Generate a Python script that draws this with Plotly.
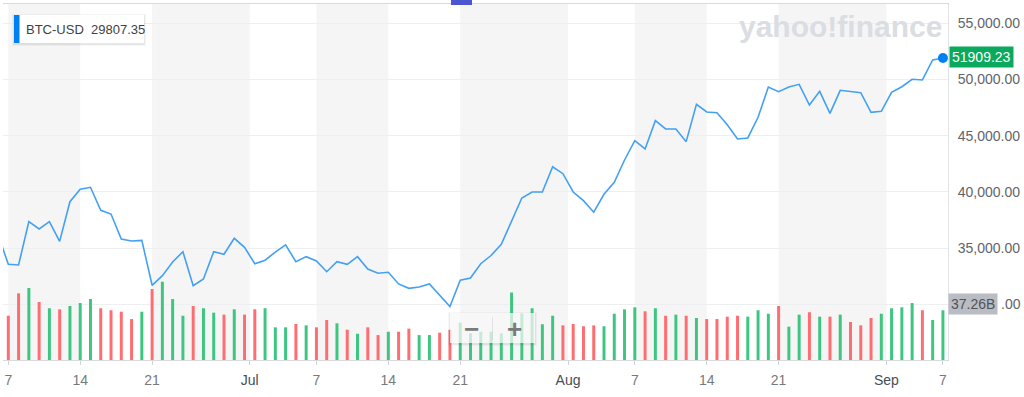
import plotly.graph_objects as go
import pandas as pd

# ---------------- data ----------------
START_DATE = "2021-06-06"
END_DATE = "2021-09-06"

PRICE = [
    36200,                                                    # Jun 6
    33560, 33500, 37350, 36700, 37350, 35600, 39130,          # Jun 7-13
    40230, 40410, 38360, 38030, 35810, 35630, 35690,          # Jun 14-20
    31690, 32550, 33760, 34680, 31660, 32250, 34680,          # Jun 21-27
    34450, 35870, 35070,                                      # Jun 28-30
    33610, 33920, 34650, 35280, 33790, 34240,                 # Jul 1-6
    33850, 32900, 33790, 33560, 34240, 33140, 32760,          # Jul 7-13
    32850, 31810, 31420, 31540, 31810, 30830, 29807.35,       # Jul 14-20
    32140, 32340, 33610, 34340, 35340, 37410, 39460,          # Jul 21-27
    39990, 39990, 42240, 41620,                               # Jul 28-31
    39990, 39220, 38190, 39790, 40850, 42840,                 # Aug 1-6
    44560, 43820, 46340, 45600, 45600, 44470, 47790,          # Aug 7-13
    47110, 47050, 45980, 44710, 44800, 46640, 49330,          # Aug 14-20
    48920, 49330, 49570, 47730, 48950, 46990, 49040,          # Aug 21-27
    48920, 48830, 47080, 47170,                               # Aug 28-31
    48860, 49360, 50020, 49960, 51740, 51909.23,              # Sep 1-6
]

VOLUME_B = [
    33.0,
    33.2, 50.0, 54.0, 43.5, 38.8, 38.0, 40.5,
    42.7, 45.7, 38.8, 37.3, 36.2, 30.7, 36.2,
    53.2, 58.7, 45.7, 33.2, 40.5, 38.8, 35.5,
    34.0, 38.0, 34.0,
    38.0, 38.8, 24.5, 24.5, 27.0, 26.0,
    24.5, 30.0, 27.5, 22.7, 19.7, 24.5, 18.7,
    21.2, 21.2, 23.5, 18.7, 18.7, 20.5, 22.7,
    28.0, 20.0, 21.2, 21.2, 20.0, 50.6, 35.0,
    38.8, 26.8, 33.2, 26.0,
    27.0, 25.3, 26.0, 25.3, 34.7, 38.0,
    39.5, 36.5, 38.8, 33.2, 34.0, 33.2, 31.5,
    30.7, 30.7, 32.5, 33.2, 32.5, 37.3, 34.7,
    40.5, 25.0, 34.0, 35.8, 32.5, 32.5, 34.0,
    28.5, 26.0, 31.5, 34.7,
    38.8, 39.5, 42.7, 37.3, 30.0, 37.26,
]

# 1 = up day (green), 0 = down day (red)
VOLUME_UP = [
    0,
    0, 0, 1, 0, 1, 0, 1,
    1, 1, 0, 0, 0, 0, 1,
    0, 1, 1, 1, 0, 1, 1,
    0, 1, 0,
    0, 1, 1, 1, 0, 1,
    0, 0, 1, 0, 1, 0, 0,
    1, 0, 0, 1, 1, 0, 0,
    1, 1, 1, 1, 1, 1, 1,
    1, 1, 1, 0,
    0, 0, 0, 1, 1, 1,
    1, 0, 1, 0, 1, 0, 1,
    0, 0, 0, 0, 1, 1, 1,
    0, 1, 1, 0, 1, 0, 1,
    0, 0, 0, 1,
    1, 1, 1, 0, 1, 1,
]

TICK_VALS = ["2021-06-07", "2021-06-14", "2021-06-21", "2021-06-30 12:00",
             "2021-07-07", "2021-07-14", "2021-07-21", "2021-07-31 12:00",
             "2021-08-07", "2021-08-14", "2021-08-21", "2021-08-31 12:00",
             "2021-09-06"]
TICK_TEXT = ["7", "14", "21", "Jul", "7", "14", "21", "Aug",
             "7", "14", "21", "Sep", "7"]
MONTH_LABELS = {"Jul", "Aug", "Sep"}

PRICE_TICKS = [30000, 35000, 40000, 45000, 50000, 55000]

SYMBOL = "BTC-USD"

# ---------------- styling / layout ----------------
W, H = 1024, 397
PL, PR, PT, PB = 3, 948, 4, 360          # plot area in pixels
X_RANGE = ["2021-06-06 11:36", "2021-09-06 11:50"]
Y_RANGE = [25044, 56718]
VOL_RANGE = [0, 266.9]

FONT = "Liberation Sans, Arial, sans-serif"
LINE_COLOR = "#43a0f3"
UP_COLOR = "#3cc680"
DOWN_COLOR = "#ff6d70"
BAND_COLOR = "#f5f5f5"
YTICK_COLOR = "#5f646a"


def pxx(x):
    return (x - PL) / (PR - PL)


def pxy(y):
    return (PB - y) / (PB - PT)


dates = pd.date_range(START_DATE, END_DATE, freq="D")

fig = go.Figure()

fig.add_trace(go.Bar(
    x=dates, y=VOLUME_B,
    marker=dict(color=[UP_COLOR if u else DOWN_COLOR for u in VOLUME_UP], line_width=0),
    width=0.29 * 86400000,
    yaxis="y2", hoverinfo="skip",
))

fig.add_trace(go.Scatter(
    x=dates, y=PRICE, mode="lines",
    line=dict(color=LINE_COLOR, width=1.6),
    hoverinfo="skip",
))

fig.add_trace(go.Scatter(
    x=[dates[-1]], y=[PRICE[-1]], mode="markers",
    marker=dict(color="#0081f2", size=10),
    cliponaxis=False, hoverinfo="skip",
))

shapes = []
# alternating weekly / monthly bands
for i in range(0, len(TICK_VALS) - 1, 2):
    shapes.append(dict(type="rect", xref="x", yref="paper",
                       x0=TICK_VALS[i], x1=TICK_VALS[i + 1], y0=0, y1=1,
                       fillcolor=BAND_COLOR, line_width=0, layer="below"))

# top indigo handle
shapes.append(dict(type="rect", xref="paper", yref="paper",
                   x0=pxx(451), x1=pxx(472), y0=pxy(5), y1=pxy(0),
                   fillcolor="#4b56d0", line_width=0, layer="above"))

# legend box (with faint shadow)
for off, alpha in [(2, 0.035), (1, 0.06)]:
    shapes.append(dict(type="rect", xref="paper", yref="paper",
                       x0=pxx(14 - off), x1=pxx(144 + off), y0=pxy(43 + off + 1), y1=pxy(15 - off + 1),
                       fillcolor=f"rgba(0,0,0,{alpha})", line_width=0, layer="above"))
shapes.append(dict(type="rect", xref="paper", yref="paper",
                   x0=pxx(14), x1=pxx(144), y0=pxy(43), y1=pxy(15),
                   fillcolor="white", line_width=0, layer="above"))
shapes.append(dict(type="rect", xref="paper", yref="paper",
                   x0=pxx(14), x1=pxx(19.5), y0=pxy(43), y1=pxy(15),
                   fillcolor="#0081f2", line_width=0, layer="above"))

# zoom control box
for off, alpha in [(2, 0.03), (1, 0.05)]:
    shapes.append(dict(type="rect", xref="paper", yref="paper",
                       x0=pxx(450 - off), x1=pxx(535 + off), y0=pxy(343 + off + 1), y1=pxy(313 - off + 1),
                       fillcolor=f"rgba(0,0,0,{alpha})", line_width=0, layer="above"))
shapes.append(dict(type="rect", xref="paper", yref="paper",
                   x0=pxx(450), x1=pxx(535), y0=pxy(343), y1=pxy(313),
                   fillcolor="rgba(255,255,255,0.72)", line_width=0, layer="above"))
shapes.append(dict(type="line", xref="paper", yref="paper",
                   x0=pxx(492.5), x1=pxx(492.5), y0=pxy(340), y1=pxy(317),
                   line=dict(color="rgba(0,0,0,0.08)", width=1), layer="above"))

# the lowest price tick label is covered by the volume tag; only its ".00" tail shows
covered_tick = PRICE_TICKS[0]
price_tick_text = ["" if v == covered_tick else f"{v:,.2f}" for v in PRICE_TICKS]

annotations = [
    # watermark
    dict(text="<b>yahoo!finance</b>", xref="paper", yref="paper",
         x=pxx(840), y=pxy(26), showarrow=False, xanchor="center", yanchor="middle",
         font=dict(family=FONT, size=30, color="#dadde2")),
    # legend text
    dict(text=f"{SYMBOL}&nbsp; {min(PRICE):.2f}", xref="paper", yref="paper",
         x=pxx(24), y=pxy(29), showarrow=False, xanchor="left", yanchor="middle",
         font=dict(family=FONT, size=13, color="#3c4146")),
    # last price tag
    dict(text=f"{PRICE[-1]:.2f}", xref="paper", yref="y",
         x=1, y=PRICE[-1], xshift=1, yshift=1, showarrow=False, xanchor="left", yanchor="middle",
         bgcolor="#0aa95d", borderpad=2,
         font=dict(family=FONT, size=14, color="white")),
    # last volume tag
    dict(text=f"{VOLUME_B[-1]:.2f}B", xref="paper", yref="y2",
         x=1, y=VOLUME_B[-1], yshift=6, showarrow=False, xanchor="left", yanchor="middle",
         bgcolor="#b9bcc3", borderpad=2,
         font=dict(family=FONT, size=14, color="#4f545a")),
    # visible tail of the covered tick label
    dict(text=f"{covered_tick:,.2f}"[-3:], xref="paper", yref="y",
         x=pxx(999), y=covered_tick, showarrow=False, xanchor="left", yanchor="middle",
         font=dict(family=FONT, size=14, color=YTICK_COLOR)),
    # zoom buttons
    dict(text="<b>−</b>", xref="paper", yref="paper",
         x=pxx(471.5), y=pxy(329), showarrow=False, xanchor="center", yanchor="middle",
         font=dict(family=FONT, size=26, color="#7a7a7a")),
    dict(text="<b>+</b>", xref="paper", yref="paper",
         x=pxx(514), y=pxy(329), showarrow=False, xanchor="center", yanchor="middle",
         font=dict(family=FONT, size=26, color="#7a7a7a")),
]

tick_text = [
    f"<span style='color:#464e56'>{t}</span>" if t in MONTH_LABELS else t
    for t in TICK_TEXT
]

fig.update_layout(
    width=W, height=H,
    margin=dict(l=PL, r=W - PR, t=PT, b=H - PB, pad=0),
    paper_bgcolor="white", plot_bgcolor="white",
    showlegend=False, hovermode=False,
    font=dict(family=FONT, size=14, color="#6b7077"),
    xaxis=dict(
        type="date", range=X_RANGE,
        tickmode="array", tickvals=TICK_VALS, ticktext=tick_text,
        showgrid=False, zeroline=False,
        showline=True, linecolor="#d8dadd", linewidth=1, mirror=True,
        ticks="outside", ticklen=4, tickcolor="#cfd2d6",
        ticklabelstandoff=3,
        tickfont=dict(family=FONT, size=14, color="#757a80"),
    ),
    yaxis=dict(
        side="right", range=Y_RANGE,
        tickmode="array", tickvals=PRICE_TICKS, ticktext=price_tick_text,
        showgrid=True, gridcolor="#eeeff1", gridwidth=1,
        zeroline=False, showline=True, linecolor="#e1e3e6", linewidth=1,
        ticks="", ticklabelstandoff=6,
        tickfont=dict(family=FONT, size=14, color=YTICK_COLOR),
    ),
    yaxis2=dict(
        overlaying="y", range=VOL_RANGE, visible=False, showgrid=False,
    ),
    shapes=shapes,
    annotations=annotations,
)

fig.write_html("out.html", config={"displayModeBar": False},
               post_script="document.body.style.margin='0';")
